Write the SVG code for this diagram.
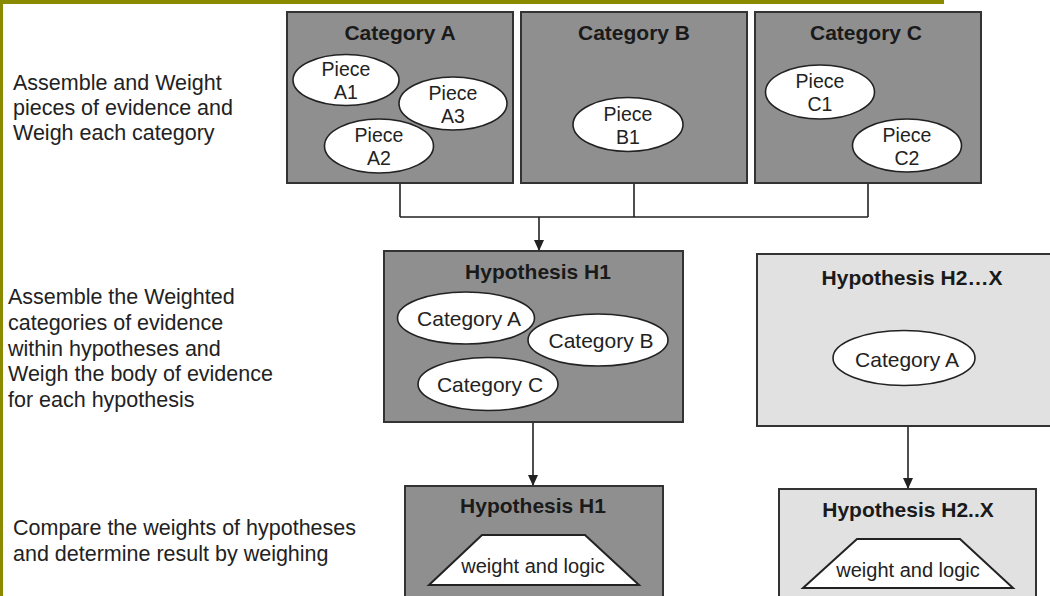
<svg xmlns="http://www.w3.org/2000/svg" width="1050" height="596" viewBox="0 0 1050 596">
<style>
  .dark { fill: #8f8f8f; stroke: #333; stroke-width: 2; }
  .light { fill: #e1e1e1; stroke: #333; stroke-width: 2; }
  .ell { fill: #fff; stroke: #222; stroke-width: 1.6; }
  .title { font-family: "Liberation Sans", Arial, Helvetica, sans-serif; font-weight: bold; font-size: 21px; fill: #1a1a1a; text-anchor: middle; }
  .piece { font-family: "Liberation Sans", Arial, Helvetica, sans-serif; font-size: 19.5px; fill: #222; text-anchor: middle; }
  .cat { font-family: "Liberation Sans", Arial, Helvetica, sans-serif; font-size: 21px; fill: #222; text-anchor: middle; }
  .wl { font-family: "Liberation Sans", Arial, Helvetica, sans-serif; font-size: 20px; fill: #222; text-anchor: middle; }
  .side { font-family: "Liberation Sans", Arial, Helvetica, sans-serif; font-size: 21.5px; fill: #222; }
  .conn { fill: none; stroke: #222; stroke-width: 1.6; }
  .trap { fill: #fff; stroke: #222; stroke-width: 2; }
</style>
<defs>
  <marker id="arrow" markerUnits="userSpaceOnUse" markerWidth="12" markerHeight="12" refX="11" refY="6" orient="auto">
    <path d="M0,1 L11,6 L0,11 z" fill="#222"/>
  </marker>
</defs>
<rect x="0" y="0" width="1050" height="596" fill="#fff"/>
<rect x="0" y="0" width="944" height="4" fill="#8a8a00"/>
<rect x="0" y="0" width="3" height="596" fill="#8a8a00"/>

<g id="label-step1">
  <text class="side" x="13" y="90">Assemble and Weight</text>
  <text class="side" x="13" y="115">pieces of evidence and</text>
  <text class="side" x="13" y="140">Weigh each category</text>
</g>
<g id="label-step2">
  <text class="side" x="8" y="304">Assemble the Weighted</text>
  <text class="side" x="8" y="330">categories of evidence</text>
  <text class="side" x="8" y="356">within hypotheses and</text>
  <text class="side" x="8" y="381">Weigh the body of evidence</text>
  <text class="side" x="8" y="407">for each hypothesis</text>
</g>
<g id="label-step3">
  <text class="side" x="13" y="535">Compare the weights of hypotheses</text>
  <text class="side" x="13" y="561">and determine result by weighing</text>
</g>

<g id="connectors">
  <path class="conn" d="M400,183 V217 M634,183 V217 M868,183 V217 M400,217 H868"/>
  <path class="conn" d="M539,217 V251" marker-end="url(#arrow)"/>
  <path class="conn" d="M533,422 V486" marker-end="url(#arrow)"/>
  <path class="conn" d="M908,426 V489" marker-end="url(#arrow)"/>
</g>

<g id="category-a">
  <rect class="dark" x="287" y="12" width="226" height="171"/>
  <text class="title" x="400" y="40">Category A</text>
  <g id="piece-a1">
    <ellipse class="ell" cx="346" cy="80" rx="53" ry="25.5"/>
    <text class="piece" x="346" y="76">Piece</text>
    <text class="piece" x="346" y="99">A1</text>
  </g>
  <g id="piece-a3">
    <ellipse class="ell" cx="453" cy="103.5" rx="54" ry="26.5"/>
    <text class="piece" x="453" y="99.5">Piece</text>
    <text class="piece" x="453" y="122.5">A3</text>
  </g>
  <g id="piece-a2">
    <ellipse class="ell" cx="379" cy="146" rx="54.5" ry="27"/>
    <text class="piece" x="379" y="142">Piece</text>
    <text class="piece" x="379" y="165">A2</text>
  </g>
</g>

<g id="category-b">
  <rect class="dark" x="521" y="12" width="226" height="171"/>
  <text class="title" x="634" y="40">Category B</text>
  <g id="piece-b1">
    <ellipse class="ell" cx="628" cy="124.5" rx="55" ry="27"/>
    <text class="piece" x="628" y="120.5">Piece</text>
    <text class="piece" x="628" y="143.5">B1</text>
  </g>
</g>

<g id="category-c">
  <rect class="dark" x="755" y="12" width="226" height="171"/>
  <text class="title" x="866" y="40">Category C</text>
  <g id="piece-c1">
    <ellipse class="ell" cx="820" cy="92" rx="54.5" ry="27"/>
    <text class="piece" x="820" y="88">Piece</text>
    <text class="piece" x="820" y="111">C1</text>
  </g>
  <g id="piece-c2">
    <ellipse class="ell" cx="907" cy="145.5" rx="54.5" ry="26.5"/>
    <text class="piece" x="907" y="141.5">Piece</text>
    <text class="piece" x="907" y="164.5">C2</text>
  </g>
</g>

<g id="hypothesis-h1">
  <rect class="dark" x="384" y="251" width="299" height="171"/>
  <text class="title" x="538" y="279">Hypothesis H1</text>
  <g id="h1-cat-a">
    <ellipse class="ell" cx="466" cy="318" rx="68.5" ry="26"/>
    <text class="cat" x="469" y="326">Category A</text>
  </g>
  <g id="h1-cat-b">
    <ellipse class="ell" cx="598" cy="340" rx="70" ry="26"/>
    <text class="cat" x="601" y="347.5">Category B</text>
  </g>
  <g id="h1-cat-c">
    <ellipse class="ell" cx="488" cy="384" rx="70" ry="26.5"/>
    <text class="cat" x="490" y="391.5">Category C</text>
  </g>
</g>

<g id="hypothesis-h2x">
  <rect class="light" x="757" y="254" width="310" height="172"/>
  <text class="title" x="912" y="285">Hypothesis H2…X</text>
  <g id="h2-cat-a">
    <ellipse class="ell" cx="904" cy="358" rx="71" ry="27.5"/>
    <text class="cat" x="907" y="367">Category A</text>
  </g>
</g>

<g id="result-h1">
  <rect class="dark" x="405" y="486" width="258" height="120"/>
  <text class="title" x="533" y="513">Hypothesis H1</text>
  <polygon class="trap" points="482,535 585,535 639,585 429,585"/>
  <text class="wl" x="533" y="573">weight and logic</text>
</g>

<g id="result-h2x">
  <rect class="light" x="779" y="489" width="257" height="120"/>
  <text class="title" x="908" y="517">Hypothesis H2..X</text>
  <polygon class="trap" points="857,539 960,539 1013,588 803,588"/>
  <text class="wl" x="908" y="577">weight and logic</text>
</g>
</svg>
